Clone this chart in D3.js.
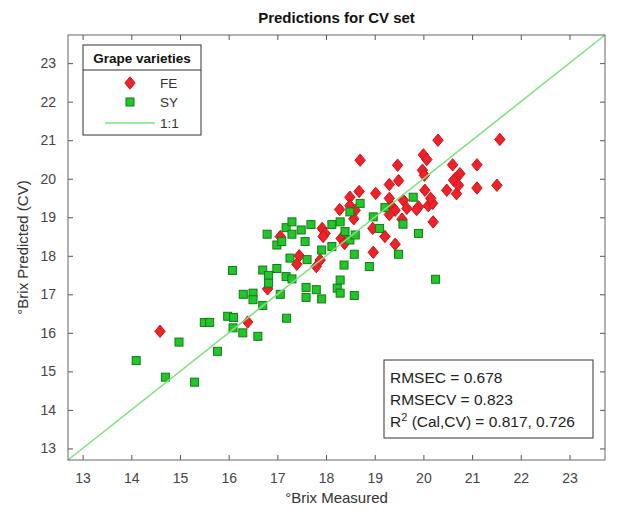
<!DOCTYPE html>
<html>
<head>
<meta charset="utf-8">
<script src="https://cdn.jsdelivr.net/npm/d3@7"></script>
<style>
  body { margin: 0; background: #fff; }
  text { font-family: "Liberation Sans", Arial, Helvetica, sans-serif; }
</style>
</head>
<body>
<script>
var width = 617;
var height = 511;

// FE samples: measured vs predicted (CV)
var feMeasured = [14.59, 16.39, 16.80, 17.06, 17.45, 17.40, 17.80, 17.88, 17.92, 17.98,
  17.94, 18.31, 18.38, 18.28, 18.49, 18.49, 18.60, 18.57, 18.68, 18.70,
  19.02, 19.30, 19.49, 19.47, 19.30, 19.36, 19.42, 19.30, 19.59, 19.66,
  19.90, 19.86, 20.10, 20.19, 20.03, 20.15, 20.00, 20.07, 19.98, 20.02,
  20.30, 20.60, 21.10, 20.75, 20.65, 20.62, 20.48, 20.68, 20.72, 21.10,
  21.51, 21.57, 20.20, 19.56, 18.96, 19.21, 19.42, 18.97];
var fePredicted = [16.04, 16.28, 17.14, 18.50, 18.00, 17.78, 17.72, 17.89, 18.71, 18.58,
  18.50, 18.45, 18.32, 19.20, 19.52, 19.30, 19.18, 18.96, 19.67, 20.48,
  19.62, 19.85, 19.95, 20.35, 19.49, 19.27, 19.18, 19.07, 19.44, 19.23,
  19.27, 19.20, 19.30, 19.36, 19.70, 19.49, 20.62, 20.50, 20.22, 20.09,
  21.00, 20.36, 20.36, 20.13, 20.00, 19.96, 19.70, 19.61, 19.83, 19.76,
  19.83, 21.02, 18.88, 18.95, 18.71, 18.50, 18.30, 18.09];

// SY samples
var syMeasured = [14.10, 14.70, 14.98, 15.30, 15.77, 15.50, 15.61, 15.98, 16.10, 16.09,
  16.29, 16.60, 16.70, 16.30, 16.50, 16.50, 17.06, 17.19, 16.08, 16.70,
  16.82, 16.82, 16.99, 17.18, 17.30, 17.59, 17.59, 17.80, 17.91, 18.23,
  18.29, 18.29, 18.58, 18.37, 18.89, 18.58, 17.26, 17.61, 17.91, 18.12,
  18.49, 17.57, 16.99, 17.09, 16.79, 17.18, 17.30, 17.30, 17.49, 17.69,
  18.12, 18.29, 18.39, 18.60, 18.49, 18.70, 18.97, 19.10, 19.49, 19.21,
  19.79, 19.58, 19.90, 20.25];
var syPredicted = [15.28, 14.85, 15.76, 14.72, 15.52, 16.27, 16.27, 16.43, 16.40, 16.13,
  16.00, 15.91, 16.71, 17.00, 17.03, 16.86, 17.00, 16.38, 17.62, 17.63,
  17.49, 17.29, 17.67, 17.46, 17.40, 17.18, 16.92, 17.12, 16.88, 17.16,
  17.37, 17.03, 16.97, 17.76, 17.72, 18.04, 17.94, 17.90, 18.15, 18.24,
  18.41, 18.37, 18.28, 18.37, 18.56, 18.73, 18.88, 18.56, 18.67, 18.81,
  18.81, 18.88, 18.63, 18.54, 19.14, 19.36, 19.01, 18.71, 18.04, 19.25,
  19.52, 18.82, 18.58, 17.39];

var axisDomain = [12.7, 23.73];
var tickValues = [13, 14, 15, 16, 17, 18, 19, 20, 21, 22, 23];
var legendLabels = ["FE", "SY", "1:1"];
var statsLines = ["RMSEC = 0.678", "RMSECV = 0.823", "R2 (Cal,CV) = 0.817, 0.726"];

var plot = {left: 68, top: 35, right: 605, bottom: 460};

var svg = d3.select("body")
            .append("svg")
            .attr("width", width)
            .attr("height", height);

var x = d3.scaleLinear().domain(axisDomain).range([plot.left, plot.right]);
var y = d3.scaleLinear().domain(axisDomain).range([plot.bottom, plot.top]);

// MATLAB style diamond: a bit taller than wide
var diamond = {
    draw: function(context, size) {
        var w = 5.2, h = 6.2;
        context.moveTo(0, -h);
        context.lineTo(w, 0);
        context.lineTo(0, h);
        context.lineTo(-w, 0);
        context.closePath();
    }
};

var feData = feMeasured.map((m, i) => [m, fePredicted[i]]);
var syData = syMeasured.map((m, i) => [m, syPredicted[i]]);

svg.append("rect")
    .attr("x", plot.left)
    .attr("y", plot.top)
    .attr("width", plot.right - plot.left)
    .attr("height", plot.bottom - plot.top)
    .attr("fill", "#fff");

svg.append("g")
    .selectAll("path")
    .data(feData)
    .enter()
    .append("path")
    .attr("d", d3.symbol().type(diamond))
    .attr("transform", d => "translate(" + x(d[0]) + "," + y(d[1]) + ")")
    .attr("fill", "#ee2228")
    .attr("stroke", "#c8161b")
    .attr("stroke-width", 1);

svg.append("g")
    .selectAll("rect")
    .data(syData)
    .enter()
    .append("rect")
    .attr("x", d => x(d[0]) - 4)
    .attr("y", d => y(d[1]) - 4)
    .attr("width", 8)
    .attr("height", 8)
    .attr("fill", "#22c62a")
    .attr("stroke", "#137a18")
    .attr("stroke-width", 1);

// 1:1 line
svg.append("line")
    .attr("x1", x(axisDomain[0]))
    .attr("y1", y(axisDomain[0]))
    .attr("x2", x(axisDomain[1]))
    .attr("y2", y(axisDomain[1]))
    .attr("stroke", "#7fe07f")
    .attr("stroke-width", 1.5);

// axes, ticks pointing inward on all four sides
function styleAxis(g, showLabels) {
    g.select(".domain").remove();
    g.selectAll(".tick line").attr("stroke", "#555");
    g.selectAll(".tick text")
        .attr("fill", "#444")
        .attr("font-size", "14px")
        .style("display", showLabels ? null : "none");
}

svg.append("g")
    .attr("transform", "translate(0," + plot.bottom + ")")
    .call(d3.axisBottom(x).tickValues(tickValues).tickSizeInner(-5).tickSizeOuter(0).tickPadding(13))
    .call(g => styleAxis(g, true));

svg.append("g")
    .attr("transform", "translate(0," + plot.top + ")")
    .call(d3.axisTop(x).tickValues(tickValues).tickSizeInner(-5).tickSizeOuter(0))
    .call(g => styleAxis(g, false));

svg.append("g")
    .attr("transform", "translate(" + plot.left + ",0)")
    .call(d3.axisLeft(y).tickValues(tickValues).tickSizeInner(-5).tickSizeOuter(0).tickPadding(12))
    .call(g => styleAxis(g, true));

svg.append("g")
    .attr("transform", "translate(" + plot.right + ",0)")
    .call(d3.axisRight(y).tickValues(tickValues).tickSizeInner(-5).tickSizeOuter(0))
    .call(g => styleAxis(g, false));

svg.append("rect")
    .attr("x", plot.left)
    .attr("y", plot.top)
    .attr("width", plot.right - plot.left)
    .attr("height", plot.bottom - plot.top)
    .attr("fill", "none")
    .attr("stroke", "#666")
    .attr("stroke-width", 1);

// title and axis labels
svg.append("text")
    .attr("x", (plot.left + plot.right) / 2)
    .attr("y", 23)
    .attr("text-anchor", "middle")
    .attr("font-size", "15px")
    .attr("font-weight", "bold")
    .attr("fill", "#111")
    .text("Predictions for CV set");

svg.append("text")
    .attr("x", (plot.left + plot.right) / 2)
    .attr("y", 503)
    .attr("text-anchor", "middle")
    .attr("font-size", "15px")
    .attr("fill", "#333")
    .text("°Brix Measured");

svg.append("text")
    .attr("transform", "translate(28," + (plot.top + plot.bottom) / 2 + ") rotate(-90)")
    .attr("text-anchor", "middle")
    .attr("font-size", "15px")
    .attr("fill", "#333")
    .text("°Brix Predicted (CV)");

// legend
var legend = svg.append("g").attr("transform", "translate(83,45)");
legend.append("rect")
    .attr("width", 118)
    .attr("height", 90)
    .attr("fill", "#fff")
    .attr("stroke", "#333")
    .attr("stroke-width", 1);
legend.append("line")
    .attr("x1", 0).attr("x2", 118)
    .attr("y1", 25).attr("y2", 25)
    .attr("stroke", "#333");
legend.append("text")
    .attr("x", 59)
    .attr("y", 18)
    .attr("text-anchor", "middle")
    .attr("font-size", "13.5px")
    .attr("font-weight", "bold")
    .attr("fill", "#111")
    .text("Grape varieties");

var rowY = [38, 57, 78];
legend.append("path")
    .attr("d", d3.symbol().type(diamond))
    .attr("transform", "translate(47," + rowY[0] + ")")
    .attr("fill", "#ee2228")
    .attr("stroke", "#c8161b");
legend.append("rect")
    .attr("x", 43).attr("y", rowY[1] - 4)
    .attr("width", 8).attr("height", 8)
    .attr("fill", "#22c62a")
    .attr("stroke", "#137a18");
legend.append("line")
    .attr("x1", 22).attr("x2", 72)
    .attr("y1", rowY[2]).attr("y2", rowY[2])
    .attr("stroke", "#7fe07f")
    .attr("stroke-width", 1.5);
legend.selectAll("text.entry")
    .data(legendLabels)
    .enter()
    .append("text")
    .attr("class", "entry")
    .attr("x", 77)
    .attr("y", (d, i) => rowY[i] + 5)
    .attr("font-size", "13.5px")
    .attr("fill", "#333")
    .text(d => d);

// stats box
var stats = svg.append("g").attr("transform", "translate(384,360)");
stats.append("rect")
    .attr("width", 209)
    .attr("height", 78)
    .attr("fill", "#fff")
    .attr("stroke", "#333");
var statText = stats.selectAll("text")
    .data(statsLines)
    .enter()
    .append("text")
    .attr("x", 6)
    .attr("y", (d, i) => 23 + i * 22)
    .attr("font-size", "15.5px")
    .attr("fill", "#222");
statText.each(function(d) {
    var t = d3.select(this);
    if (d.indexOf("R2") === 0) {
        t.append("tspan").text("R");
        t.append("tspan").attr("dy", -6).attr("font-size", "11px").text("2");
        t.append("tspan").attr("dy", 6).text(d.slice(2));
    } else {
        t.text(d);
    }
});
</script>
</body>
</html>
